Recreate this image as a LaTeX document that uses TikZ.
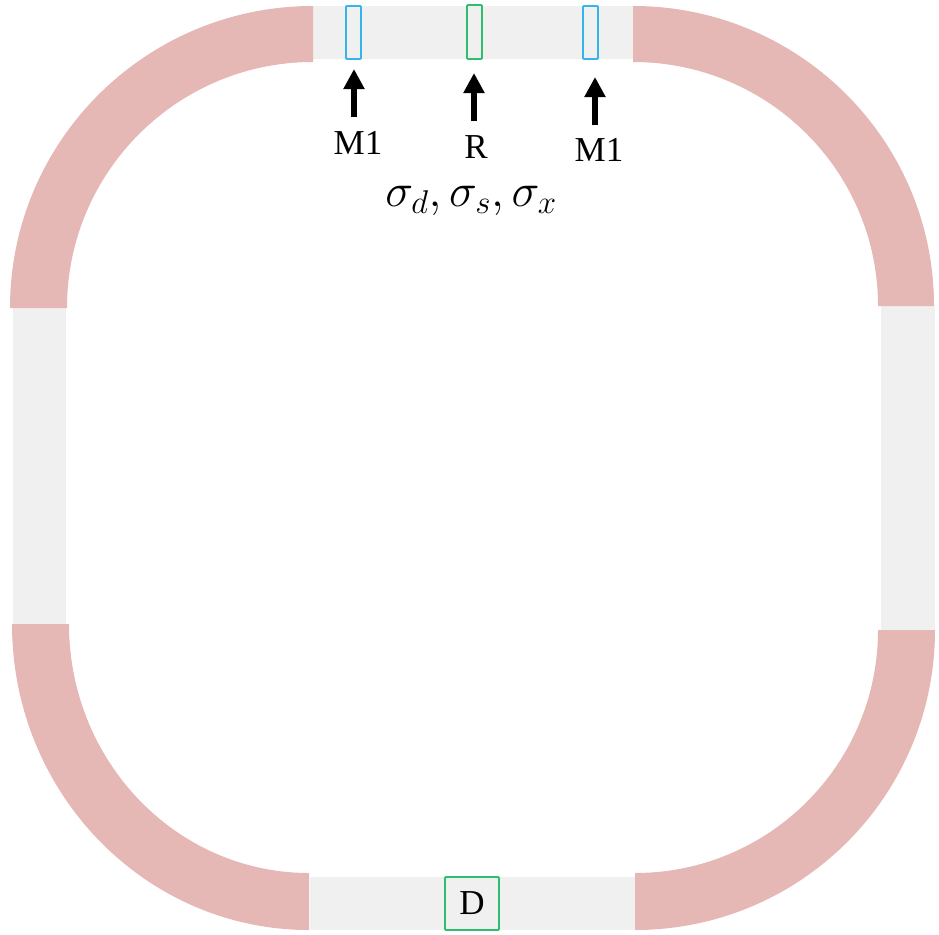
\documentclass[tikz,border=0pt]{standalone}
\usepackage{fix-cm}
\usepackage{fontspec}
\setmainfont{Liberation Serif}
\usetikzlibrary{arrows.meta}
\definecolor{rbend}{HTML}{E5B8B5}
\definecolor{rstraight}{HTML}{F0F0F0}
\definecolor{rblue}{HTML}{35B5EA}
\definecolor{rgreen}{HTML}{2EBF6E}
\tikzset{
 bendarc/.style={fill=rbend},
 straightsec/.style={fill=rstraight},
 cavity/.style={draw=#1, line width=1.8pt, rounded corners=1pt, minimum width=15pt, minimum height=53pt, inner sep=0pt},
 feed/.style={-{Triangle[length=20pt,width=20pt]}, line width=6pt, black},
 lbl/.style={font=\fontsize{35}{37}\selectfont, inner sep=0pt}
}
\begin{document}
\begin{tikzpicture}[x=1pt,y=-1pt]
 \useasboundingbox (0,0) rectangle (939,934);
 % straight sections
 \fill[straightsec] (313,6) rectangle (633,59);
 \fill[straightsec] (13,308) rectangle (66,624);
 \fill[straightsec] (881,306) rectangle (935,630);
 \fill[straightsec] (310,877) rectangle (636,930);
 % bends
 \fill[bendarc] (10,308) arc[start angle=180,end angle=270,x radius=303,y radius=302] -- (313,62) arc[start angle=270,end angle=180,x radius=246,y radius=246] -- cycle;
 \fill[bendarc] (633,6) arc[start angle=270,end angle=360,x radius=301,y radius=300] -- (878,306) arc[start angle=360,end angle=270,x radius=245,y radius=244] -- cycle;
 \fill[bendarc] (935,630) arc[start angle=0,end angle=90,x radius=300,y radius=300] -- (635,873) arc[start angle=90,end angle=0,x radius=243,y radius=243] -- cycle;
 \fill[bendarc] (309,930) arc[start angle=90,end angle=180,x radius=297,y radius=306] -- (69,624) arc[start angle=180,end angle=90,x radius=240,y radius=249] -- cycle;
 % elements
 \node[cavity=rblue] (mleft) at (353.5,32.5) {};
 \node[cavity=rgreen, minimum height=54pt] (rf) at (474.5,32) {};
 \node[cavity=rblue] (mright) at (590.5,32.5) {};
 \node[cavity=rgreen, minimum width=54pt, minimum height=53pt, font=\fontsize{35}{37}\selectfont] (det) at (472,903.5) {D};
 % labels
 \node[lbl] (lmleft) at (358,143) {M1};
 \node[lbl] (lrf) at (476,147) {R};
 \node[lbl] (lmright) at (599,150) {M1};
 \node[inner sep=0pt, font=\fontsize{47}{49}\selectfont] (sig) at (471,201) {$\sigma_d,\sigma_s,\sigma_x$};
 % arrows
 \coordinate (amleft) at (354,117);
 \coordinate (tmleft) at (354,69);
 \coordinate (arf) at (474,121);
 \coordinate (trf) at (474,73);
 \coordinate (amright) at (595,125);
 \coordinate (tmright) at (595,77);
 \draw[feed] (amleft) -- (tmleft);
 \draw[feed] (arf) -- (trf);
 \draw[feed] (amright) -- (tmright);
\end{tikzpicture}
\end{document}
